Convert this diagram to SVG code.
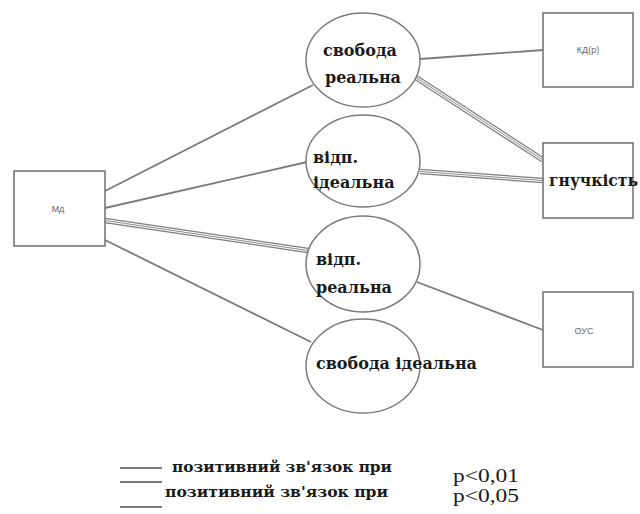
<svg xmlns="http://www.w3.org/2000/svg" width="640" height="514" viewBox="0 0 640 514">
<style>
.box{fill:#fff;stroke:#6e6e6e;stroke-width:1.5}
.ell{fill:#fff;stroke:#7a7a7a;stroke-width:1.5}
.c{fill:none;stroke:#7a7a7a;stroke-width:1.8}
.ta{fill:none;stroke:#7d7d7d;stroke-width:5.5}
.tb{fill:none;stroke:#fff;stroke-width:3}
.tc{fill:none;stroke:#8a8a8a;stroke-width:1}
.s{font-family:"Liberation Sans",Arial,sans-serif;font-size:9px;fill:#666}
.t{font-family:"DejaVu Serif","Liberation Serif",serif;font-size:16px;fill:#1a1a1a;font-weight:bold}
.l{font-family:"DejaVu Serif","Liberation Serif",serif;font-size:15px;fill:#1a1a1a;font-weight:bold}
.p{font-family:"Liberation Serif",serif;font-size:19px;fill:#1a1a1a}
</style>
<g id="connectors">
<line class="c" x1="105" y1="191" x2="313" y2="85"/>
<line class="c" x1="105" y1="208" x2="307" y2="162"/>
<line class="c" x1="105" y1="240" x2="311" y2="342"/>
<line class="c" x1="420" y1="59" x2="543" y2="50"/>
<line class="c" x1="417" y1="282" x2="543" y2="330"/>
<g>
<line class="ta" x1="105" y1="220.5" x2="308" y2="250.5"/>
<line class="tb" x1="105" y1="220.5" x2="308" y2="250.5"/>
<line class="tc" x1="105" y1="220.5" x2="308" y2="250.5"/>
</g>
<g>
<line class="ta" x1="415" y1="77" x2="543" y2="160"/>
<line class="tb" x1="415" y1="77" x2="543" y2="160"/>
<line class="tc" x1="415" y1="77" x2="543" y2="160"/>
</g>
<g>
<line class="ta" x1="420" y1="171.5" x2="543" y2="180.5"/>
<line class="tb" x1="420" y1="171.5" x2="543" y2="180.5"/>
<line class="tc" x1="420" y1="171.5" x2="543" y2="180.5"/>
</g>
</g>
<g id="md"><rect class="box" x="14" y="171" width="91" height="75"/><text class="s" x="58" y="212" text-anchor="middle">Мд</text></g>
<g id="kd"><rect class="box" x="543" y="13" width="90" height="74"/><text class="s" x="588" y="53" text-anchor="middle">КД(р)</text></g>
<g id="gn"><rect class="box" x="543" y="143" width="90" height="75"/><text class="t" x="549" y="186" textLength="89" lengthAdjust="spacingAndGlyphs">гнучкість</text></g>
<g id="ous"><rect class="box" x="543" y="292" width="90" height="75"/><text class="s" x="584" y="334" text-anchor="middle">ОУС</text></g>
<g id="e1"><ellipse class="ell" cx="363" cy="60" rx="57" ry="47"/><text class="t" x="323" y="56">свобода</text><text class="t" x="325" y="83">реальна</text></g>
<g id="e2"><ellipse class="ell" cx="363" cy="161" rx="57" ry="46"/><text class="t" x="313" y="163">відп.</text><text class="t" x="313" y="188">ідеальна</text></g>
<g id="e3"><ellipse class="ell" cx="363" cy="264" rx="57" ry="48"/><text class="t" x="316" y="265">відп.</text><text class="t" x="316" y="293">реальна</text></g>
<g id="e4"><ellipse class="ell" cx="363" cy="366" rx="57" ry="47"/><text class="t" x="316" y="369">свобода ідеальна</text></g>
<g id="legend">
<line class="c" x1="120" y1="468" x2="162" y2="468"/>
<line class="c" x1="120" y1="482" x2="162" y2="482"/>
<line class="c" x1="120" y1="507" x2="162" y2="507"/>
<text class="l" x="172" y="472" textLength="220" lengthAdjust="spacingAndGlyphs">позитивний зв'язок при</text>
<text class="l" x="165" y="497" textLength="223" lengthAdjust="spacingAndGlyphs">позитивний зв'язок при</text>
<text class="p" x="453" y="482" textLength="66" lengthAdjust="spacingAndGlyphs">p&lt;0,01</text>
<text class="p" x="453" y="502" textLength="66" lengthAdjust="spacingAndGlyphs">p&lt;0,05</text>
</g>
</svg>
